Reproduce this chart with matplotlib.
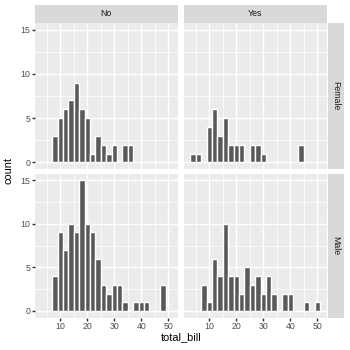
import matplotlib
matplotlib.use("Agg")
import matplotlib.pyplot as plt

plt.rcParams['font.family'] = ['Liberation Sans', 'DejaVu Sans']

# histogram bins of width 2 (centres), counts per facet
bin_centers = [4, 6, 8, 10, 12, 14, 16, 18, 20, 22, 24, 26, 28, 30,
               32, 34, 36, 38, 40, 42, 44, 46, 48, 50]
female_no = [0, 0, 3, 5, 6, 7, 9, 6, 5, 1, 3, 2, 1, 2,
             0, 2, 2, 0, 0, 0, 0, 0, 0, 0]
female_yes = [1, 1, 0, 4, 6, 3, 5, 2, 2, 2, 0, 2, 2, 1,
              0, 0, 0, 0, 0, 0, 2, 0, 0, 0]
male_no = [0, 0, 4, 9, 7, 10, 9, 15, 10, 9, 6, 3, 2, 3,
           3, 1, 0, 1, 1, 1, 0, 0, 3, 0]
male_yes = [0, 0, 3, 1, 6, 4, 10, 4, 4, 2, 5, 3, 4, 2,
            4, 2, 0, 2, 2, 0, 0, 1, 0, 1]

col_labels = ['No', 'Yes']
row_labels = ['Female', 'Male']
counts = {('Female', 'No'): female_no, ('Female', 'Yes'): female_yes,
          ('Male', 'No'): male_no, ('Male', 'Yes'): male_yes}

x_ticks = [10, 20, 30, 40, 50]
x_minor = [5, 15, 25, 35, 45]
y_ticks = [0, 5, 10, 15]
y_minor = [2.5, 7.5, 12.5]

W = H = 350
fig = plt.figure(figsize=(W / 72, H / 72), dpi=72)

def fx(px):
    return px / W

def fy(px):
    return 1 - px / H

col_x = [(35, 177.5), (184, 326.5)]
row_y = [(23, 169), (173.5, 317.5)]

lw = 1.42
for i, row in enumerate(row_labels):
    for j, col in enumerate(col_labels):
        x0, x1 = col_x[j]
        y0, y1 = row_y[i]
        ax = fig.add_axes([fx(x0), fy(y1), fx(x1 - x0), (y1 - y0) / H])
        ax.set_facecolor('#EBEBEB')
        for s in ax.spines.values():
            s.set_visible(False)
        ax.set_xlim(0.6, 53.4)
        ax.set_ylim(-0.75, 15.75)
        for v in x_minor:
            ax.axvline(v, color='white', lw=lw / 2, zorder=0)
        for v in y_minor:
            ax.axhline(v, color='white', lw=lw / 2, zorder=0)
        for v in x_ticks:
            ax.axvline(v, color='white', lw=lw, zorder=0.5)
        for v in y_ticks:
            ax.axhline(v, color='white', lw=lw, zorder=0.5)
        xs = [c for c, n in zip(bin_centers, counts[(row, col)]) if n > 0]
        ns = [n for n in counts[(row, col)] if n > 0]
        ax.bar(xs, ns, width=2, color='#595959', edgecolor='white',
               linewidth=lw, zorder=2)
        ax.set_xticks(x_ticks)
        ax.set_yticks(y_ticks)
        ax.tick_params(length=2.75, width=lw, color='#333333',
                       labelcolor='#4D4D4D', labelsize=8.8, pad=2.2)
        if i == 0:
            ax.tick_params(axis='x', bottom=False, labelbottom=False)
        if j == 1:
            ax.tick_params(axis='y', left=False, labelleft=False)

# column strips
for j, col in enumerate(col_labels):
    x0, x1 = col_x[j]
    sax = fig.add_axes([fx(x0), fy(22.7), fx(x1 - x0), 17.7 / H])
    sax.set_facecolor('#D9D9D9')
    sax.set_xticks([])
    sax.set_yticks([])
    for s in sax.spines.values():
        s.set_visible(False)
    sax.text(0.5, 0.5, col, ha='center', va='center', fontsize=8.8,
             color='#1A1A1A', transform=sax.transAxes)

# row strips
for i, row in enumerate(row_labels):
    y0, y1 = row_y[i]
    sax = fig.add_axes([fx(327.5), fy(y1), fx(16.7), (y1 - y0) / H])
    sax.set_facecolor('#D9D9D9')
    sax.set_xticks([])
    sax.set_yticks([])
    for s in sax.spines.values():
        s.set_visible(False)
    sax.text(0.5, 0.5, row, ha='center', va='center', fontsize=8.8,
             color='#1A1A1A', rotation=-90, transform=sax.transAxes)

fig.text(fx(180.7), fy(337), 'total_bill', ha='center', va='center',
         fontsize=11, color='black')
fig.text(fx(9), fy(170), 'count', ha='center', va='center',
         fontsize=11, color='black', rotation=90)

fig.savefig('out.png', dpi=72)
